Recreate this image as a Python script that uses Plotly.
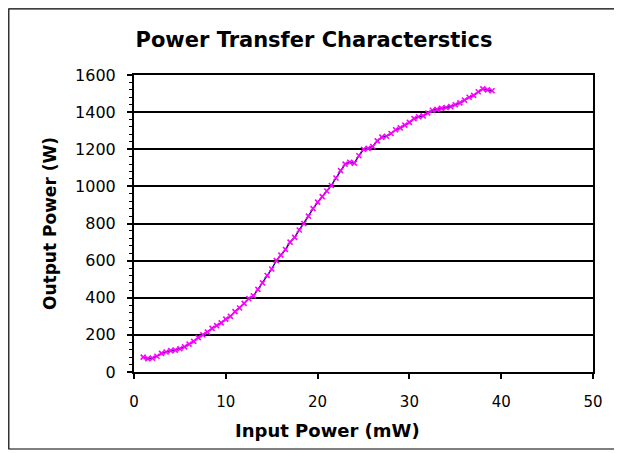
import plotly.graph_objects as go

input_power = [1.0, 1.5, 2.0, 2.5, 3.0, 3.5, 4.0, 4.5, 5.0, 5.5, 6.0, 6.5, 7.0, 7.5, 8.0, 8.5, 9.0, 9.5,
               10.0, 10.5, 11.0, 11.5, 12.0, 12.5, 13.0, 13.5, 14.0, 14.5, 15.0, 15.5, 16.0, 16.5, 17.0,
               17.5, 18.0, 18.5, 19.0, 19.5, 20.0, 20.5, 21.0, 21.5, 22.0, 22.5, 23.0, 23.5, 24.0, 24.5,
               25.0, 25.5, 26.0, 26.5, 27.0, 27.5, 28.0, 28.5, 29.0, 29.5, 30.0, 30.5, 31.0, 31.5, 32.0,
               32.5, 33.0, 33.5, 34.0, 34.5, 35.0, 35.5, 36.0, 36.5, 37.0, 37.5, 38.0, 38.5, 39.0]
output_power = [80, 72, 75, 85, 100, 108, 115, 118, 125, 135, 150, 165, 185, 200, 215, 235, 250, 265,
                285, 300, 325, 345, 370, 395, 410, 445, 480, 520, 555, 600, 630, 660, 700,
                725, 765, 800, 840, 880, 915, 945, 975, 1005, 1045, 1085, 1120, 1130, 1125, 1165,
                1200, 1205, 1215, 1245, 1265, 1270, 1285, 1305, 1315, 1330, 1345, 1365, 1375, 1380, 1395,
                1410, 1415, 1420, 1425, 1430, 1440, 1450, 1465, 1480, 1490, 1510, 1525, 1520, 1515]

title_text = "Power Transfer Characterstics"
x_title = "Input Power (mW)"
y_title = "Output Power (W)"

FONT = "DejaVu Sans, Liberation Sans, Arial, sans-serif"

# figure is placed at (8, 8) in the page by the default body margin
W, H = 614, 445
L, T, PW, PH = 126, 67, 459, 297

fig = go.Figure()
fig.add_trace(go.Scatter(
    x=input_power, y=output_power, mode="lines+markers",
    line=dict(color="#000080", width=1.4),
    marker=dict(symbol="x-thin", size=5, line=dict(color="#FF00FF", width=1.6), color="#FF00FF"),
    showlegend=False,
))

fig.update_layout(
    width=W, height=H,
    margin=dict(l=L, r=W - L - PW, t=T, b=H - T - PH),
    paper_bgcolor="white", plot_bgcolor="white",
    font=dict(family=FONT, color="black", size=15),
    title=dict(text="<b>" + title_text + "</b>", x=306 / W, xanchor="center",
               y=1 - 32 / H, yanchor="middle", font=dict(size=21, family=FONT)),
    xaxis=dict(range=[0, 50], dtick=10, tick0=0, showgrid=False, zeroline=False,
               showline=True, linecolor="black", linewidth=2, mirror=True,
               ticks="outside", ticklen=5, tickwidth=1.5, tickcolor="black",
               ticklabelstandoff=10, tickfont=dict(size=15)),
    yaxis=dict(range=[0, 1600], dtick=200, tick0=0, showgrid=True, gridcolor="black", gridwidth=1.5,
               zeroline=False, showline=True, linecolor="black", linewidth=2, mirror=True,
               ticks="outside", ticklen=5, tickwidth=1.5, tickcolor="black",
               ticklabelstandoff=8, tickfont=dict(size=16),
               minor=dict(dtick=40, ticks="outside", ticklen=3, tickcolor="black", tickwidth=1),
               title=dict(text="<b>" + y_title + "</b>", font=dict(size=17), standoff=14)),
    annotations=[dict(text="<b>" + x_title + "</b>", xref="paper", yref="paper",
                      x=(319 - L) / PW, y=(T + PH - 422) / PH, xanchor="center", yanchor="middle",
                      showarrow=False, font=dict(size=18, family=FONT))],
    shapes=[dict(type="rect", xref="paper", yref="paper",
                 x0=(0.8 - L) / PW, x1=(613 - L) / PW,
                 y0=(T + PH - 441) / PH, y1=(T + PH - 0.8) / PH,
                 line=dict(color="black", width=1.2), fillcolor="rgba(0,0,0,0)", layer="below")],
)

fig.write_html("out.html")
